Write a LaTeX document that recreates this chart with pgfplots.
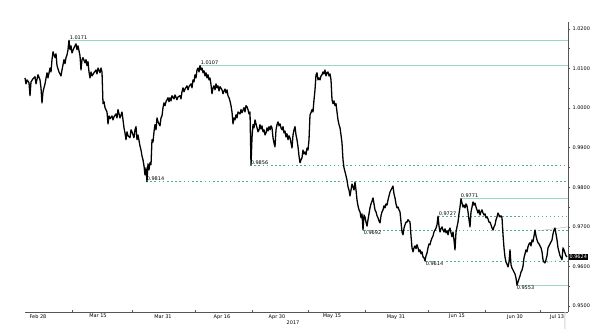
\documentclass[border=0pt]{standalone}
\usepackage{fontspec}
\setmainfont{DejaVu Sans}
\usepackage{pgfplots}
\usepackage{pgfplotstable}
\pgfplotsset{compat=1.18}
\definecolor{mint}{HTML}{9AD8C0}
\definecolor{lvl}{HTML}{45B48A}
\definecolor{axgray}{HTML}{555555}
\pgfplotstableread{
x y
25 1.0076
26 1.0061
27 1.0071
29 1.0064
30 1.0031
31 1.0066
33 1.0074
35 1.0079
36 1.0061
38 1.0084
40 1.0071
41 1.0051
42 1.0013
43 1.0041
45 1.0061
47 1.0089
48 1.0076
50 1.0101
51 1.0091
52 1.0122
53 1.0142
55 1.0127
56 1.0137
57 1.0107
59 1.0091
61 1.0081
62 1.0096
64 1.0122
65 1.0112
66 1.0127
67 1.0134
68 1.0147
69 1.0171
70 1.0147
71 1.0157
72 1.0139
74 1.0152
76 1.0162
77 1.0147
78 1.0157
80 1.0132
81 1.0096
82 1.0122
83 1.0127
85 1.0114
86 1.0122
87 1.0107
88 1.0117
89 1.0091
90 1.0076
91 1.0091
92 1.0081
94 1.0089
96 1.0096
97 1.0086
98 1.0101
100 1.0089
101 1.0101
102 1.0091
103 1.0011
104 1.0016
105 1.0001
107 0.9990
108 0.9960
109 0.9980
110 0.9973
112 0.9980
113 0.9970
114 0.9978
116 0.9985
117 0.9975
118 0.9996
120 0.9975
122 0.9990
123 0.9970
124 0.9950
125 0.9937
126 0.9920
127 0.9940
128 0.9930
130 0.9925
131 0.9945
132 0.9940
134 0.9925
135 0.9945
136 0.9953
137 0.9920
138 0.9932
140 0.9904
141 0.9894
142 0.9879
143 0.9869
144 0.9854
145 0.9831
146 0.9849
147 0.9814
148 0.9859
149 0.9844
150 0.9862
151 0.9857
152 0.9920
153 0.9914
154 0.9940
155 0.9958
156 0.9945
157 0.9975
158 0.9965
160 0.9955
161 0.9975
162 0.9980
163 1.0001
164 1.0013
165 1.0006
166 1.0016
168 1.0026
169 1.0016
170 1.0026
171 1.0018
172 1.0031
174 1.0023
175 1.0033
177 1.0021
178 1.0028
180 1.0031
181 1.0023
182 1.0041
183 1.0051
184 1.0041
185 1.0048
187 1.0056
188 1.0046
189 1.0054
191 1.0061
192 1.0051
193 1.0071
194 1.0066
195 1.0084
196 1.0076
197 1.0096
198 1.0101
199 1.0091
200 1.0107
201 1.0096
202 1.0101
203 1.0089
204 1.0094
205 1.0081
206 1.0089
207 1.0076
208 1.0084
209 1.0071
210 1.0076
211 1.0059
212 1.0036
213 1.0051
214 1.0056
215 1.0046
216 1.0061
217 1.0051
218 1.0056
219 1.0043
220 1.0054
222 1.0046
223 1.0036
224 1.0043
225 1.0048
226 1.0038
227 1.0046
228 1.0031
229 1.0026
230 1.0018
231 1.0006
232 0.9990
233 0.9960
234 0.9975
235 0.9970
236 0.9983
237 0.9975
238 0.9990
240 0.9985
241 0.9996
242 0.9988
244 1.0001
245 0.9990
246 1.0006
247 1.0003
248 0.9996
249 0.9985
250 0.9990
251 0.9856
252 0.9925
253 0.9958
254 0.9950
255 0.9970
256 0.9960
257 0.9950
258 0.9940
259 0.9945
260 0.9958
261 0.9947
262 0.9955
263 0.9940
264 0.9945
265 0.9932
266 0.9937
267 0.9950
268 0.9942
269 0.9953
270 0.9945
271 0.9955
272 0.9950
273 0.9925
274 0.9912
275 0.9902
276 0.9945
277 0.9958
278 0.9965
279 0.9955
280 0.9960
281 0.9950
282 0.9945
283 0.9953
284 0.9937
285 0.9942
286 0.9927
287 0.9935
288 0.9920
289 0.9930
290 0.9925
291 0.9912
292 0.9899
293 0.9932
294 0.9945
295 0.9953
296 0.9932
297 0.9920
298 0.9902
299 0.9879
300 0.9862
301 0.9869
302 0.9874
303 0.9894
304 0.9884
305 0.9889
306 0.9882
307 0.9899
308 0.9894
309 0.9920
310 0.9983
311 0.9988
312 0.9996
313 0.9990
314 1.0021
315 1.0046
316 1.0084
317 1.0089
318 1.0071
319 1.0076
320 1.0071
321 1.0081
322 1.0084
323 1.0091
324 1.0086
325 1.0096
326 1.0081
327 1.0089
328 1.0091
329 1.0081
330 1.0086
331 1.0071
332 1.0021
333 1.0011
334 1.0018
335 1.0006
336 1.0011
337 0.9990
338 0.9970
339 0.9958
340 0.9950
341 0.9932
342 0.9912
343 0.9869
344 0.9849
345 0.9839
346 0.9829
347 0.9818
348 0.9801
349 0.9793
350 0.9778
351 0.9793
352 0.9808
353 0.9801
354 0.9793
355 0.9813
356 0.9793
357 0.9768
358 0.9753
359 0.9743
360 0.9738
361 0.9723
362 0.9733
363 0.9692
364 0.9730
365 0.9725
366 0.9712
367 0.9702
368 0.9718
369 0.9733
370 0.9748
371 0.9758
372 0.9765
373 0.9773
374 0.9758
375 0.9743
376 0.9738
377 0.9728
378 0.9723
379 0.9715
380 0.9710
381 0.9728
382 0.9738
383 0.9743
384 0.9753
385 0.9748
386 0.9758
387 0.9755
388 0.9768
389 0.9778
390 0.9788
391 0.9793
392 0.9798
393 0.9803
394 0.9783
395 0.9773
396 0.9758
397 0.9748
398 0.9750
399 0.9743
400 0.9738
401 0.9712
402 0.9687
403 0.9680
404 0.9697
405 0.9705
406 0.9712
407 0.9712
408 0.9718
409 0.9715
410 0.9712
411 0.9677
412 0.9647
413 0.9637
414 0.9647
415 0.9652
416 0.9645
417 0.9655
418 0.9647
419 0.9637
420 0.9642
421 0.9632
422 0.9637
423 0.9624
424 0.9622
425 0.9614
426 0.9627
427 0.9634
428 0.9647
429 0.9657
430 0.9655
431 0.9665
432 0.9672
433 0.9677
434 0.9687
435 0.9692
436 0.9697
437 0.9705
438 0.9727
439 0.9702
440 0.9687
441 0.9695
442 0.9700
443 0.9692
444 0.9687
445 0.9695
446 0.9685
447 0.9690
448 0.9680
449 0.9692
450 0.9697
451 0.9685
452 0.9675
453 0.9687
454 0.9667
455 0.9642
456 0.9687
457 0.9700
458 0.9712
459 0.9733
460 0.9750
461 0.9771
462 0.9760
463 0.9750
464 0.9755
465 0.9748
466 0.9758
467 0.9753
468 0.9738
469 0.9718
470 0.9700
471 0.9738
472 0.9750
473 0.9763
474 0.9755
475 0.9760
476 0.9750
477 0.9743
478 0.9735
479 0.9743
480 0.9730
481 0.9738
482 0.9743
483 0.9735
484 0.9730
485 0.9733
486 0.9723
487 0.9725
488 0.9720
489 0.9712
490 0.9712
491 0.9705
492 0.9697
493 0.9692
494 0.9700
495 0.9705
496 0.9718
497 0.9725
498 0.9735
499 0.9730
500 0.9725
501 0.9728
502 0.9723
503 0.9680
504 0.9647
505 0.9624
506 0.9611
507 0.9606
508 0.9599
509 0.9611
510 0.9642
511 0.9604
512 0.9596
513 0.9591
514 0.9586
515 0.9581
516 0.9571
517 0.9553
518 0.9561
519 0.9569
520 0.9576
521 0.9586
522 0.9591
523 0.9601
524 0.9622
525 0.9632
526 0.9642
527 0.9637
528 0.9650
529 0.9657
530 0.9660
531 0.9652
532 0.9667
533 0.9662
534 0.9677
535 0.9692
536 0.9677
537 0.9667
538 0.9660
539 0.9657
540 0.9652
541 0.9647
542 0.9637
543 0.9617
544 0.9611
545 0.9609
546 0.9617
547 0.9627
548 0.9647
549 0.9652
550 0.9657
551 0.9662
552 0.9667
553 0.9682
554 0.9692
555 0.9697
556 0.9682
557 0.9667
558 0.9647
559 0.9637
560 0.9627
561 0.9622
562 0.9617
563 0.9647
564 0.9642
565 0.9634
566 0.9627
567 0.9624
}\price
\begin{document}
\begin{tikzpicture}
\useasboundingbox (0,0) rectangle (600bp,329bp);
\begin{axis}[
  at={(25bp,17bp)}, anchor=south west,
  scale only axis, width=543bp, height=290bp,
  xmin=25, xmax=568, ymin=0.9485, ymax=1.0217,
  clip=false,
  axis x line*=bottom, axis y line*=right,
  axis line style={axgray, line width=0.6pt},
  /pgf/number format/assume math mode=true,
  ticklabel style={font=\fontsize{5}{6}\selectfont, text=black},
  xtick={72,132,195,252,308,365,428,485,540},
  xticklabels={},
  x tick style={axgray, line width=0.4pt, yshift=2bp},
  ytick={0.95,0.96,0.97,0.98,0.99,1.00,1.01,1.02},
  minor y tick num=1,
  y tick style={axgray, line width=0.4pt},
  tick align=outside,
  major tick length=2bp, minor tick length=1.5bp,
  yticklabel style={xshift=-1bp, /pgf/number format/.cd, fixed, fixed zerofill, precision=4, 1000 sep={}},
]
% level lines
\addplot[mint, line width=1pt] coordinates {(69,1.0171) (568,1.0171)};
\addplot[mint, line width=1pt] coordinates {(200,1.0107) (568,1.0107)};
\addplot[lvl, line width=0.7pt, dash pattern=on 1.6pt off 2.6pt] coordinates {(250,0.9856) (568,0.9856)};
\addplot[lvl, line width=0.7pt, dash pattern=on 1.6pt off 2.6pt] coordinates {(146,0.9814) (568,0.9814)};
\addplot[mint, line width=1pt] coordinates {(460,0.9771) (568,0.9771)};
\addplot[lvl, line width=1pt, dash pattern=on 1.8pt off 2.2pt] coordinates {(438,0.9727) (568,0.9727)};
\addplot[lvl, line width=1pt, dash pattern=on 1.8pt off 2.2pt] coordinates {(363,0.9692) (568,0.9692)};
\addplot[lvl, line width=0.7pt, dash pattern=on 1.6pt off 2.6pt] coordinates {(425,0.9614) (568,0.9614)};
\addplot[mint, line width=1pt] coordinates {(516,0.9553) (568,0.9553)};
% trend lines
\addplot[gray!70, line width=0.35pt] coordinates {(538,0.9690) (568,0.9700)};
\addplot[gray!60, line width=0.35pt, dash pattern=on 1pt off 1pt] coordinates {(547,0.9610) (563,0.9619)};
% price
\addplot[black, line width=1.3pt, line join=round] table[x=x, y=y] {\price};
% labels
\begin{scope}[every node/.style={font=\fontsize{5}{6}\selectfont, inner sep=0.6pt}]
\node[anchor=south west] at (axis cs:69,1.0171) {1.0171};
\node[anchor=south west] at (axis cs:200,1.0107) {1.0107};
\node[anchor=south west] at (axis cs:250,0.9856) {0.9856};
\node[anchor=south west] at (axis cs:146,0.9814) {0.9814};
\node[anchor=south west] at (axis cs:460,0.9771) {0.9771};
\node[anchor=south west] at (axis cs:438,0.9727) {0.9727};
\node[anchor=north west] at (axis cs:363,0.9692) {0.9692};
\node[anchor=north west] at (axis cs:425,0.9614) {0.9614};
\node[anchor=north west] at (axis cs:516,0.9553) {0.9553};
\node[anchor=north, yshift=-1.5bp] at (axis cs:38,0.9485) {Feb 28};
\node[anchor=north, yshift=-1.5bp] at (axis cs:98,0.9485) {Mar 15};
\node[anchor=north, yshift=-1.5bp] at (axis cs:163,0.9485) {Mar 31};
\node[anchor=north, yshift=-1.5bp] at (axis cs:222,0.9485) {Apr 16};
\node[anchor=north, yshift=-1.5bp] at (axis cs:277,0.9485) {Apr 30};
\node[anchor=north, yshift=-1.5bp] at (axis cs:332,0.9485) {May 15};
\node[anchor=north, yshift=-1.5bp] at (axis cs:396,0.9485) {May 31};
\node[anchor=north, yshift=-1.5bp] at (axis cs:457,0.9485) {Jun 15};
\node[anchor=north, yshift=-1.5bp] at (axis cs:515,0.9485) {Jun 30};
\node[anchor=north, yshift=-1.5bp] at (axis cs:557,0.9485) {Jul 13};
\node[anchor=north, yshift=-7.5bp] at (axis cs:293,0.9485) {2017};
\node[anchor=west, fill=black, text=white, inner sep=0.8pt] at (axis cs:568.5,0.9624) {0.9624};
\end{scope}
\draw[gray!35, line width=1pt] (axis cs:565,0.9485) -- ++(0,-12bp);
\end{axis}
\end{tikzpicture}
\end{document}
